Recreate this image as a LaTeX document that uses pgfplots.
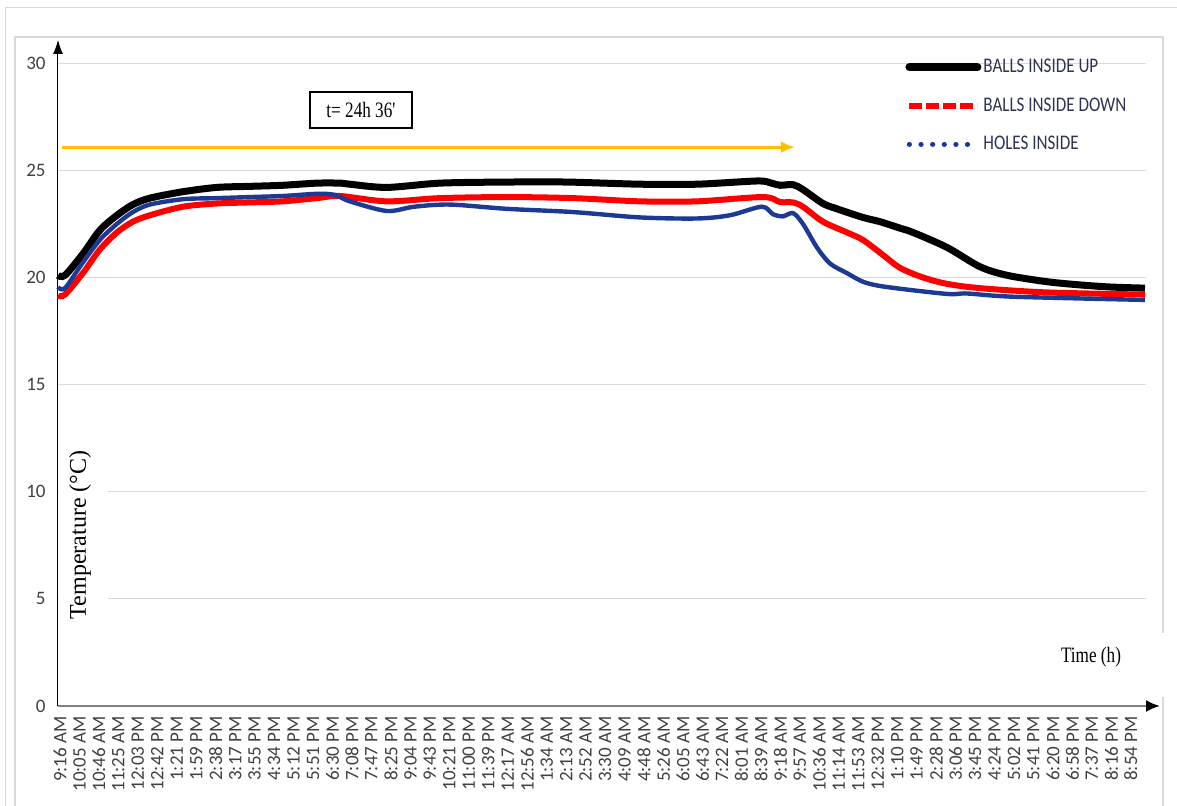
\documentclass[border=0pt]{standalone}
\usepackage{fontspec}
\usepackage{pgfplots}
\pgfplotsset{compat=1.18}
\usetikzlibrary{arrows.meta,calc}
\newfontfamily\carl{Carlito}
\newfontfamily\carlc[FakeStretch=0.82]{Carlito}
\newfontfamily\timesc[FakeStretch=0.78]{Liberation Serif}
\newfontfamily\tnr{Liberation Serif}
\definecolor{gridc}{HTML}{D9D9D9}
\definecolor{tickc}{HTML}{404040}
\definecolor{legc}{HTML}{2E3350}
\definecolor{bluec}{HTML}{1C3A94}
\definecolor{yelc}{HTML}{FFC000}
\definecolor{framec}{HTML}{D9D9D9}
\newcommand{\PX}[2]{({(#1-58)*0.5pt},{(706-#2)*0.5pt})}
\begin{document}
\begin{tikzpicture}
\useasboundingbox \PX{0}{0} rectangle \PX{1177}{806};
\draw[framec, line width=0.5pt] \PX{5}{806} -- \PX{5}{8} -- \PX{1177}{8};
\draw[framec, line width=0.6pt] \PX{15}{806} -- \PX{15}{37} -- \PX{1163}{37} -- \PX{1163}{806};
\begin{axis}[
  at={(0,0)}, anchor=south west,
  scale only axis, width=551pt, height=333pt,
  xmin=-0.1, xmax=56.5, ymin=0, ymax=31.08,
  axis lines=left,
  x axis line style={draw=gray, line width=1.1pt, -{Latex[length=7pt,width=6pt,color=black]}},
  y axis line style={draw=black, line width=0.5pt, -{Latex[length=7pt,width=5pt]}},
  xtick={0,...,55},
  xticklabels={9:16 AM,10:05 AM,10:46 AM,11:25 AM,12:03 PM,12:42 PM,1:21 PM,1:59 PM,2:38 PM,3:17 PM,3:55 PM,4:34 PM,5:12 PM,5:51 PM,6:30 PM,7:08 PM,7:47 PM,8:25 PM,9:04 PM,9:43 PM,10:21 PM,11:00 PM,11:39 PM,12:17 AM,12:56 AM,1:34 AM,2:13 AM,2:52 AM,3:30 AM,4:09 AM,4:48 AM,5:26 AM,6:05 AM,6:43 AM,7:22 AM,8:01 AM,8:39 AM,9:18 AM,9:57 AM,10:36 AM,11:14 AM,11:53 AM,12:32 PM,1:10 PM,1:49 PM,2:28 PM,3:06 PM,3:45 PM,4:24 PM,5:02 PM,5:41 PM,6:20 PM,6:58 PM,7:37 PM,8:16 PM,8:54 PM},
  ytick={0,5,...,30},
  major tick length=0pt,
  xticklabel style={rotate=90, anchor=east, inner sep=0pt, font=\carl\fontsize{9.5}{10}\selectfont, text=tickc},
  xticklabel shift=5pt,
  yticklabel style={anchor=east, inner sep=0pt, font=\carl\fontsize{9.5}{10}\selectfont, text=tickc},
  yticklabel shift=6pt,
  /pgf/number format/assume math mode=true,
  clip=false,
  legend cell align=left,
  legend style={at={(0.7686,0.975)}, anchor=north west, draw=none, fill=none, inner sep=0pt, row sep=9pt, font=\carlc\fontsize{10.4}{12}\selectfont, text=legc, nodes={inner sep=1pt}},
  legend image code/.code={\draw[#1] (0pt,0pt) -- (34pt,0pt);},
]
\foreach \yy in {5,10,...,30}{
  \edef\tmp{\noexpand\draw[gridc, line width=0.6pt] (axis cs:-0.1,\yy) -- (axis cs:55.8,\yy);}\tmp
}
\fill[white] (axis cs:-0.03,3.6) rectangle (axis cs:2.47,12.4);
\node[rotate=90, font=\tnr\fontsize{12}{14}\selectfont] at (axis cs:1.03,7.98) {Temperature (°C)};
\draw[-{Latex[length=7pt,width=6pt]}, color=yelc, line width=1.5pt] (axis cs:0.1,26.08) -- (axis cs:37.75,26.08);
\node[draw=black, line width=1pt, fill=white, minimum width=51pt, minimum height=18pt, inner sep=0pt, font=\timesc\fontsize{11}{13}\selectfont] at (axis cs:15.46,27.81) {t= 24h 36'};

\addplot[black, line width=3.5pt, smooth, forget plot] coordinates {
(-0.10,20.1) (0.26,20.1) (1.18,21.1) (2.05,22.2) (2.93,22.9) (3.75,23.4) (4.62,23.7) (6.32,24.0) (8.06,24.2) (9.76,24.25) (11.45,24.3) (13.20,24.4) (14.38,24.4) (14.89,24.35) (16.79,24.2) (19.52,24.4) (22.96,24.45) (26.04,24.45) (29.79,24.35) (32.72,24.35) (35.80,24.5) (36.47,24.42) (36.98,24.3) (37.65,24.33) (38.16,24.1) (39.19,23.45) (39.91,23.2) (41.24,22.8) (42.12,22.6) (43.14,22.3) (43.81,22.1) (45.56,21.4) (47.25,20.5) (48.64,20.1) (50.69,19.8) (52.39,19.65) (54.0,19.55) (55.73,19.5)
};
\addplot[red, line width=3pt, smooth, forget plot] coordinates {
(-0.10,19.15) (0.26,19.2) (1.18,20.2) (2.05,21.3) (2.93,22.1) (3.75,22.6) (4.62,22.9) (6.32,23.3) (8.06,23.45) (9.76,23.5) (11.45,23.55) (13.20,23.7) (14.38,23.8) (16.79,23.55) (19.52,23.7) (22.96,23.75) (26.35,23.7) (29.79,23.55) (32.72,23.55) (36.11,23.75) (36.98,23.52) (37.65,23.5) (38.16,23.3) (39.19,22.6) (40.42,22.1) (41.24,21.75) (42.27,21.05) (43.14,20.45) (44.32,20.0) (45.56,19.7) (47.25,19.5) (50.69,19.3) (55.73,19.2)
};
\addplot[bluec, line width=2.2pt, smooth, forget plot] coordinates {
(-0.10,19.55) (0.26,19.5) (1.18,20.7) (2.05,21.75) (2.93,22.5) (3.75,23.05) (4.62,23.4) (6.32,23.65) (8.06,23.7) (9.76,23.75) (11.45,23.8) (13.20,23.9) (14.12,23.85) (14.89,23.55) (16.79,23.1) (18.2,23.3) (20.03,23.4) (22.96,23.2) (26.35,23.05) (29.79,22.8) (32.72,22.75) (34.41,22.9) (36.05,23.3) (36.62,22.95) (37.13,22.85) (37.65,23.0) (38.16,22.5) (38.88,21.4) (39.55,20.65) (40.42,20.2) (41.24,19.8) (42.12,19.6) (43.81,19.4) (45.71,19.22) (46.6,19.25) (48.95,19.1) (55.73,18.95)
};
\addlegendimage{black, line width=4pt, line cap=round}
\addlegendentry{BALLS INSIDE UP}
\addlegendimage{red, line width=3pt, dash pattern=on 6.5pt off 2pt}
\addlegendentry{BALLS INSIDE DOWN}
\addlegendimage{bluec, line width=2.6pt, line cap=round, dash pattern=on 0.01pt off 5.8pt}
\addlegendentry{HOLES INSIDE}
\end{axis}
\fill[white] \PX{1040}{633} rectangle \PX{1177}{697};
\node[font=\timesc\fontsize{11}{13}\selectfont] at \PX{1091}{657} {Time (h)};
\end{tikzpicture}
\end{document}
